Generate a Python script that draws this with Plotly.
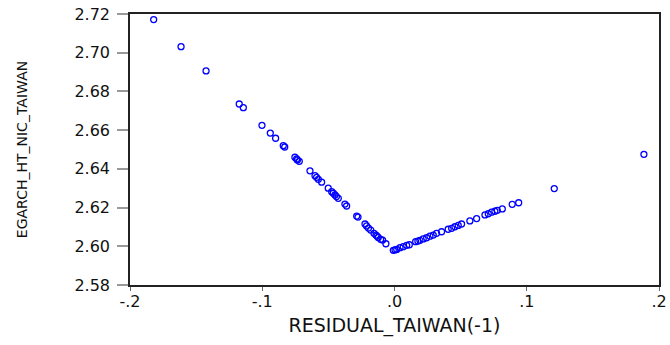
import plotly.graph_objects as go

# Residual (lagged) vs EGARCH conditional variance (news impact curve)
residual = [
    -0.1821, -0.1614, -0.1425, -0.1174, -0.1143, -0.1002, -0.0939, -0.0899,
    -0.0841, -0.0830, -0.0753, -0.0740, -0.0734, -0.0720, -0.0639, -0.0601,
    -0.0589, -0.0576, -0.0551, -0.0501, -0.0475, -0.0463, -0.0450, -0.0439,
    -0.0425, -0.0375, -0.0362, -0.0286, -0.0276, -0.0223, -0.0211, -0.0197,
    -0.0180, -0.0155, -0.0140, -0.0133, -0.0123, -0.0105, -0.0090, -0.0065,
    -0.0009, 0.0004, 0.0017, 0.0042, 0.0066, 0.0092, 0.0112, 0.0160,
    0.0177, 0.0192, 0.0217, 0.0243, 0.0268, 0.0293, 0.0318, 0.0356,
    0.0406, 0.0432, 0.0457, 0.0482, 0.0507, 0.0570, 0.0621, 0.0684,
    0.0709, 0.0734, 0.0759, 0.0777, 0.0815, 0.0890, 0.0939, 0.1208,
    0.1886,
]
egarch_ht = [
    2.7171, 2.7031, 2.6906, 2.6735, 2.6716, 2.6625, 2.6585, 2.6558,
    2.6520, 2.6513, 2.6460, 2.6451, 2.6446, 2.6439, 2.6390, 2.6365,
    2.6356, 2.6346, 2.6331, 2.6300, 2.6282, 2.6274, 2.6265, 2.6257,
    2.6248, 2.6218, 2.6208, 2.6156, 2.6151, 2.6115, 2.6105, 2.6094,
    2.6084, 2.6067, 2.6058, 2.6053, 2.6046, 2.6036, 2.6032, 2.6013,
    2.5979, 2.5981, 2.5984, 2.5993, 2.5998, 2.6005, 2.6008, 2.6024,
    2.6027, 2.6031, 2.6038, 2.6044, 2.6052, 2.6058, 2.6067, 2.6075,
    2.6088, 2.6093, 2.6101, 2.6108, 2.6115, 2.6131, 2.6143, 2.6162,
    2.6168, 2.6176, 2.6181, 2.6186, 2.6193, 2.6217, 2.6225, 2.6298,
    2.6475,
]

x_tickvals = [-0.2, -0.1, 0.0, 0.1, 0.2]
x_ticktext = ["-.2", "-.1", ".0", ".1", ".2"]
y_tickvals = [2.58, 2.60, 2.62, 2.64, 2.66, 2.68, 2.70, 2.72]
y_ticktext = ["2.58", "2.60", "2.62", "2.64", "2.66", "2.68", "2.70", "2.72"]

fig = go.Figure()
fig.add_trace(go.Scatter(
    x=residual, y=egarch_ht, mode="markers",
    marker=dict(symbol="circle-open", size=6, color="#0000ff",
                line=dict(width=1.3, color="#0000ff")),
    showlegend=False, cliponaxis=False,
))

font_family = "DejaVu Sans"
fig.update_layout(
    width=670, height=345,
    margin=dict(l=130, r=11, t=14, b=60),
    paper_bgcolor="white", plot_bgcolor="white",
    font=dict(family=font_family, color="#111111"),
    xaxis=dict(
        range=[-0.2, 0.2], tickvals=x_tickvals, ticktext=x_ticktext,
        showgrid=False, zeroline=False, automargin=False,
        showline=True, linecolor="#222222", linewidth=1.5, mirror=True,
        ticks="outside", ticklen=4, tickcolor="#666666", tickwidth=1,
        ticklabelstandoff=-3, ticklabeloverflow="allow",
        tickfont=dict(size=16, family=font_family),
        title=dict(text="RESIDUAL_TAIWAN(-1)", font=dict(size=19, family=font_family),
                   standoff=9),
    ),
    yaxis=dict(
        range=[2.58, 2.72], tickvals=y_tickvals, ticktext=y_ticktext,
        showgrid=False, zeroline=False, automargin=False,
        showline=True, linecolor="#222222", linewidth=1.5, mirror=True,
        ticks="outside", ticklen=11, tickcolor="#999999", tickwidth=1.5,
        ticklabelstandoff=4, ticklabeloverflow="allow",
        tickfont=dict(size=16, family=font_family),
        title=dict(text="EGARCH_HT_NIC_TAIWAN", font=dict(size=14, family=font_family),
                   standoff=44),
    ),
)

fig.write_html(
    "out.html",
    config={"displayModeBar": False},
    post_script="document.body.style.margin='0';document.body.style.overflow='hidden';",
)
